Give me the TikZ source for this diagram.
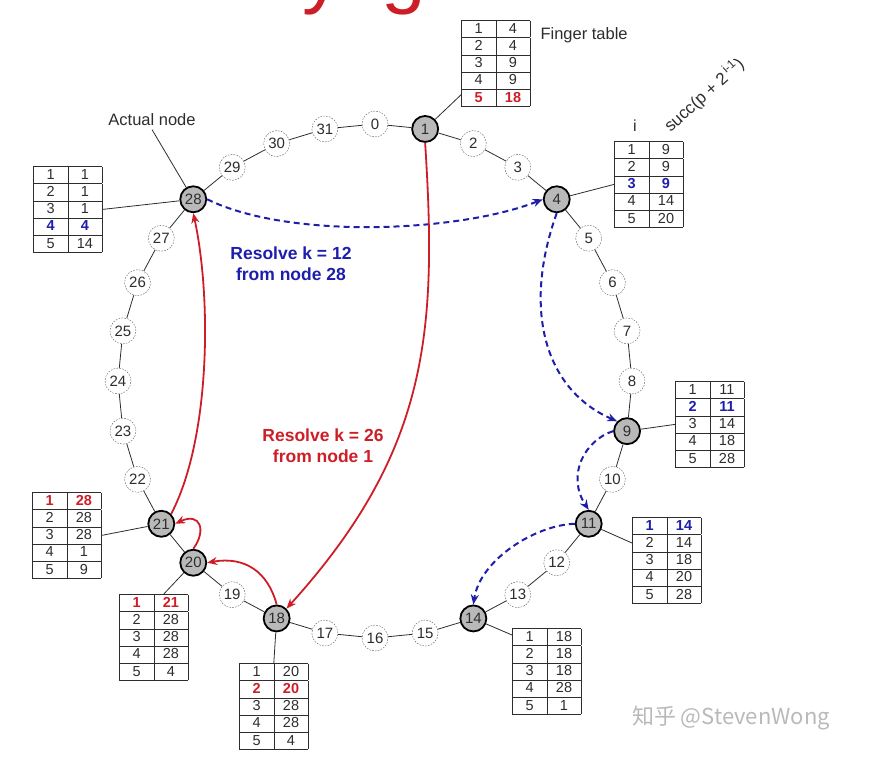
\documentclass[tikz,border=0pt]{standalone}
\usepackage{fontspec}
\setmainfont{Liberation Sans}
\newfontfamily\cjkfont{Noto Sans CJK SC}
\usepackage{array}
\usetikzlibrary{arrows.meta}

\definecolor{hotred}{RGB}{205,30,40}
\definecolor{hotblue}{RGB}{30,30,170}
\definecolor{ink}{RGB}{45,45,45}

\newcolumntype{C}{>{\centering\arraybackslash}p{30pt}}
\setlength{\tabcolsep}{2pt}
\setlength{\extrarowheight}{3pt}
\newcommand{\redrow}[2]{\textcolor{hotred}{\bfseries #1} & \textcolor{hotred}{\bfseries #2}}
\newcommand{\bluerow}[2]{\textcolor{hotblue}{\bfseries #1} & \textcolor{hotblue}{\bfseries #2}}
\newcommand{\ftab}[1]{\begin{tabular}{|C|C|}\hline #1\end{tabular}}

\tikzset{
	slot/.style={circle, draw=ink!80, dash pattern=on 1.6pt off 1.3pt, fill=white, minimum size=26pt, inner sep=0pt, text=ink, font=\fontsize{15}{15}\selectfont},
	peer/.style={circle, draw=black, line width=1.8pt, fill=gray!55, minimum size=26pt, inner sep=0pt, text=ink, font=\fontsize{15}{15}\selectfont},
	tab/.style={anchor=north west, inner sep=0pt, text=ink, font=\fontsize{14.5}{13.8}\selectfont},
	hop/.style={hotred, line width=1.8pt, -{Stealth[length=10pt,width=8pt]}},
	dhop/.style={hotblue, line width=2pt, dash pattern=on 6pt off 4pt, -{Stealth[length=10pt,width=8pt]}},
}

\begin{document}
\begin{tikzpicture}[x=1pt, y=-1pt]
	\useasboundingbox (0,0) rectangle (869,757);

	% cut title
	\begin{scope}
		\clip (0,0) rectangle (869,757);
		\node[anchor=base, text=hotred, font=\fontsize{80}{80}\selectfont] (ttly) at (322,-1) {y};
		\node[anchor=base, text=hotred, font=\fontsize{80}{80}\selectfont] (ttlg) at (404,-1) {g};
	\end{scope}

	% ring of identifiers
	\foreach \k [evaluate=\k as \a using -90+11.25*\k] in {0,...,31}
	{
		\node[slot] (n\k) at ([shift={(375,381)}]\a:257) {\k};
	}
	\foreach \k [evaluate=\k as \a using -90+11.25*\k] in {1,4,9,11,14,18,20,21,28}
	{
		\node[peer] (n\k) at ([shift={(375,381)}]\a:257) {\k};
	}
	\foreach \k in {0,...,31}
	{
		\pgfmathtruncatemacro{\j}{mod(\k+1,32)}
		\draw[ink, line width=0.8pt] (n\k) -- (n\j);
	}

	% finger tables
	\node[tab] (t1) at (461,20) {\ftab{1&4\\\hline 2&4\\\hline 3&9\\\hline 4&9\\\hline \redrow{5}{18}\\\hline}};
	\node[tab] (t4) at (614,141) {\ftab{1&9\\\hline 2&9\\\hline \bluerow{3}{9}\\\hline 4&14\\\hline 5&20\\\hline}};
	\node[tab] (t9) at (675,381) {\ftab{1&11\\\hline \bluerow{2}{11}\\\hline 3&14\\\hline 4&18\\\hline 5&28\\\hline}};
	\node[tab] (t11) at (632,517) {\ftab{\bluerow{1}{14}\\\hline 2&14\\\hline 3&18\\\hline 4&20\\\hline 5&28\\\hline}};
	\node[tab] (t14) at (512,628) {\ftab{1&18\\\hline 2&18\\\hline 3&18\\\hline 4&28\\\hline 5&1\\\hline}};
	\node[tab] (t18) at (239,663) {\ftab{1&20\\\hline \redrow{2}{20}\\\hline 3&28\\\hline 4&28\\\hline 5&4\\\hline}};
	\node[tab] (t20) at (119,594) {\ftab{\redrow{1}{21}\\\hline 2&28\\\hline 3&28\\\hline 4&28\\\hline 5&4\\\hline}};
	\node[tab] (t21) at (32,492) {\ftab{\redrow{1}{28}\\\hline 2&28\\\hline 3&28\\\hline 4&1\\\hline 5&9\\\hline}};
	\node[tab] (t28) at (33,166) {\ftab{1&1\\\hline 2&1\\\hline 3&1\\\hline \bluerow{4}{4}\\\hline 5&14\\\hline}};

	\draw[ink, line width=0.8pt] (n1) -- ([yshift=12pt]t1.south west);
	\draw[ink, line width=0.8pt] (n4) -- (t4.west);
	\draw[ink, line width=0.8pt] (n9) -- (t9.west);
	\draw[ink, line width=0.8pt] (n11) -- ([yshift=-26pt]t11.north west);
	\draw[ink, line width=0.8pt] (n14) -- ([yshift=-7pt]t14.north west);
	\draw[ink, line width=0.8pt] (n18) -- (t18.north);
	\draw[ink, line width=0.8pt] (n20) -- ([xshift=10pt]t20.north);
	\draw[ink, line width=0.8pt] (n21) -- (t21.east);
	\draw[ink, line width=0.8pt] (n28) -- (t28.east);

	% captions
	\node[anchor=west, text=ink, font=\fontsize{16.5}{16.5}\selectfont] (fcap) at (537,35) {Finger table};
	\node[text=ink, font=\fontsize{16.5}{16.5}\selectfont] (acap) at (152,120) {Actual node};
	\draw[ink, line width=0.8pt] (acap.south) -- (n28);
	\node[text=ink, font=\fontsize{16}{16}\selectfont] (icap) at (635,126) {i};
	\node[rotate=42, inner sep=0pt, text=ink, font=\fontsize{17}{17}\selectfont] (scap) at (704,95) {succ(p + 2\textsuperscript{\,i-1})};

	% lookups
	\draw[dhop] (n28.east) .. controls (290,240) and (460,232) .. (n4.west);
	\draw[dhop] (n4.south) .. controls (522,310) and (545,390) .. (n9.north west);
	\draw[dhop] (n9.west) .. controls (585,440) and (566,475) .. (n11.north);
	\draw[dhop] (n11.west) .. controls (535,525) and (480,560) .. (n14.north);

	\draw[hop] (n1.south) .. controls (437,330) and (430,450) .. (n18.north east);
	\draw[hop] (n18.north) .. controls (268,572) and (245,556) .. (n20.east);
	\draw[hop] (n20.north) .. controls (207,530) and (200,512) .. (n21.east);
	\draw[hop] (n21.north east) .. controls (210,440) and (212,300) .. (n28.south);

	\node[align=center, text=hotblue, font=\bfseries\fontsize{17.5}{21}\selectfont] (kblue) at (291,264) {Resolve k = 12\\from node 28};
	\node[align=center, text=hotred, font=\bfseries\fontsize{17.5}{21}\selectfont] (kred) at (323,446) {Resolve k = 26\\from node 1};

	\node[text=gray!55, font=\cjkfont\fontsize{22}{22}\selectfont] (mark) at (731,718) {知乎 @StevenWong};
\end{tikzpicture}
\end{document}
